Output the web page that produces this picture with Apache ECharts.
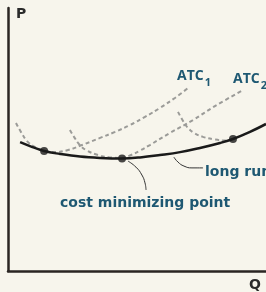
<!DOCTYPE html>
<html><head><meta charset="utf-8">
<script src="https://cdn.jsdelivr.net/npm/echarts@6/dist/echarts.min.js"></script>
<style>html,body{margin:0;padding:0;background:#f7f5ec}#c{width:266px;height:292px}</style>
</head><body><div id="c"></div>
<script>
// Long-run average total cost (envelope)
var lrQ = [4.7, 8.5, 14.0, 20.2, 27.9, 35.7, 44.2, 51.2, 58.9, 66.7, 74.4, 82.2, 87.2, 93.8, 100];
var lrP = [49.0, 47.5, 45.6, 44.5, 43.5, 43.0, 42.8, 43.2, 44.1, 45.2, 46.8, 48.7, 50.2, 52.9, 55.9];
// Short-run ATC curves
var atc1Q = [3.1, 5.0, 7.4, 10.5, 14.0, 18.2, 23.3, 28.7, 35.7, 41.5, 47.3, 53.1, 58.9, 64.7, 69.8];
var atc1P = [56.3, 52.9, 49.4, 47.1, 45.8, 45.2, 46.0, 47.9, 50.6, 52.9, 55.5, 58.6, 62.0, 65.8, 69.6];
var atc2Q = [24.0, 25.6, 27.5, 30.2, 34.9, 39.5, 44.2, 47.7, 51.2, 55.0, 62.8, 71.7, 80.2, 91.1];
var atc2P = [53.6, 51.0, 48.3, 46.0, 44.1, 43.2, 43.0, 44.1, 45.8, 47.9, 52.5, 57.4, 62.7, 68.8];
var atc3Q = [65.9, 67.4, 69.4, 72.1, 75.6, 80.2, 84.1, 88.4];
var atc3P = [60.5, 57.8, 54.8, 52.5, 51.0, 50.0, 49.6, 50.7];
// Tangency points
var dotQ = [14.0, 44.2, 87.2];
var dotP = [45.6, 42.8, 50.2];
// Annotation leader lines
var lead1Q = [46.5, 49.6, 51.9, 53.1, 53.5];
var lead1P = [41.8, 39.5, 36.5, 33.5, 30.8];
var lead2Q = [64.3, 65.9, 68.2, 71.3, 75.6];
var lead2P = [43.3, 41.4, 39.9, 39.2, 39.2];
// Labels
var labelATC1 = ['ATC', '1'];
var labelATC2 = ['ATC', '2'];
var labelCost = 'cost minimizing point';
var labelLong = 'long run';
var axisP = 'P', axisQ = 'Q';

function zip(a, b) { return a.map(function (v, i) { return [v, b[i]]; }); }

var teal = '#1e5872';
var font = "'DejaVu Sans', sans-serif";
var atcFont = "'Open Sans', sans-serif";
var dash = { color: '#9b9b98', width: 2, type: [4, 3] };
function atcRich() {
  return {
    a: { fontFamily: atcFont, fontWeight: 'bold', fontSize: 14, fill: teal, lineHeight: 16, verticalAlign: 'top' },
    b: { fontFamily: atcFont, fontWeight: 'bold', fontSize: 11, fill: teal, lineHeight: 19, verticalAlign: 'bottom', padding: [0, 0, 0, 1] }
  };
}

var chart = echarts.init(document.getElementById('c'), null, { renderer: 'canvas' });
chart.setOption({
  backgroundColor: '#f7f5ec',
  animation: false,
  grid: { left: 8, top: 8, right: 0, bottom: 21 },
  xAxis: { type: 'value', min: 0, max: 100, splitLine: { show: false }, axisTick: { show: false }, axisLabel: { show: false },
    axisLine: { show: true, onZero: false, lineStyle: { color: '#2a2522', width: 2.5 } } },
  yAxis: { type: 'value', min: 0, max: 100, splitLine: { show: false }, axisTick: { show: false }, axisLabel: { show: false },
    axisLine: { show: true, onZero: false, lineStyle: { color: '#2a2522', width: 2.5 } } },
  series: [
    { type: 'line', data: zip(atc1Q, atc1P), smooth: 0.4, symbol: 'none', lineStyle: dash, z: 2 },
    { type: 'line', data: zip(atc2Q, atc2P), smooth: 0.4, symbol: 'none', lineStyle: dash, z: 2 },
    { type: 'line', data: zip(atc3Q, atc3P), smooth: 0.4, symbol: 'none', lineStyle: dash, z: 2 },
    { type: 'line', data: zip(lrQ, lrP), smooth: 0.4, symbol: 'none', lineStyle: { color: '#1a1a1a', width: 2.5 }, z: 3 },
    { type: 'line', data: zip(lead1Q, lead1P), smooth: 0.5, symbol: 'none', lineStyle: { color: '#333', width: 1 }, z: 3 },
    { type: 'line', data: zip(lead2Q, lead2P), smooth: 0.5, symbol: 'none', lineStyle: { color: '#333', width: 1 }, z: 3 },
    { type: 'scatter', data: zip(dotQ, dotP), symbolSize: 8, itemStyle: { color: '#1a1a1a' }, z: 4 }
  ],
  graphic: [
    { type: 'text', left: 16, top: 7, style: { text: axisP, font: "bold 14px " + font, fill: '#2b2b2b' } },
    { type: 'text', left: 249, top: 278, style: { text: axisQ, font: "bold 14px " + font, fill: '#2b2b2b' } },
    { type: 'text', left: 60, top: 196, style: { text: labelCost, font: "bold 14px " + font, fill: teal } },
    { type: 'text', left: 205, top: 165, style: { text: labelLong, font: "bold 14px " + font, fill: teal } },
    { type: 'text', left: 177, top: 69, style: { text: '{a|' + labelATC1[0] + '}{b|' + labelATC1[1] + '}', rich: atcRich() } },
    { type: 'text', left: 233, top: 72, style: { text: '{a|' + labelATC2[0] + '}{b|' + labelATC2[1] + '}', rich: atcRich() } }
  ]
});
</script></body></html>
